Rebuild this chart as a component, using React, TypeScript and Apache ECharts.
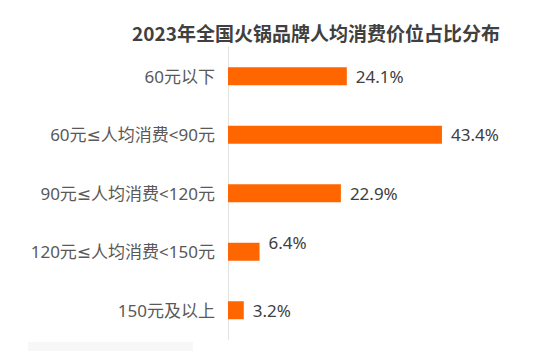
import React, { useEffect, useRef } from "react";
import * as echarts from "echarts";

const titleText = "2023年全国火锅品牌人均消费价位占比分布";
const categories = [
  "60元以下",
  "60元≤人均消费<90元",
  "90元≤人均消费<120元",
  "120元≤人均消费<150元",
  "150元及以上",
];
const values = [24.1, 43.4, 22.9, 6.4, 3.2];

const FONT = "'Noto Sans CJK SC', 'Noto Sans', sans-serif";
const LFONT = "'Noto Sans', 'DejaVu Sans', 'Noto Sans CJK SC', sans-serif";

export default function App() {
  const ref = useRef<HTMLDivElement>(null);
  useEffect(() => {
    if (!ref.current) return;
    const chart = echarts.init(ref.current, null, { renderer: "svg" });
    chart.setOption({
      animation: false,
      backgroundColor: "#ffffff",
      textStyle: { fontFamily: FONT },
      graphic: [
        {
          type: "text",
          x: 316,
          y: 32,
          style: {
            text: titleText,
            font: `bold 19px ${FONT}`,
            fill: "#404040",
            align: "center",
            verticalAlign: "middle",
          },
        },
        {
          type: "rect",
          shape: { x: 28, y: 342, width: 165, height: 9 },
          style: { fill: "#f7f7f7" },
          silent: true,
        },
      ],
      grid: { left: 228, top: 47, height: 292.5, right: 79.5 },
      xAxis: {
        type: "value",
        min: 0,
        max: 50,
        show: false,
      },
      yAxis: {
        type: "category",
        data: categories,
        inverse: true,
        axisLine: { show: true, lineStyle: { color: "#e3e3e3", width: 1 } },
        axisTick: { show: false },
        axisLabel: {
          margin: 13,
          fontSize: 17,
          color: "#595959",
          fontFamily: LFONT,
        },
      },
      series: [
        {
          type: "bar",
          barWidth: 18,
          itemStyle: { color: "#ff6600" },
          data: values.map((v, i) =>
            i === 3 ? { value: v, label: { offset: [0, -9] } } : v
          ),
          label: {
            show: true,
            position: "right",
            distance: 9,
            fontSize: 17,
            color: "#404040",
            fontFamily: LFONT,
            formatter: (p: any) => `${p.value}%`,
          },
        },
      ],
    });
    return () => chart.dispose();
  }, []);
  return (
    <div
      ref={ref}
      style={{ position: "fixed", left: 0, top: 0, width: 554, height: 352 }}
    />
  );
}
